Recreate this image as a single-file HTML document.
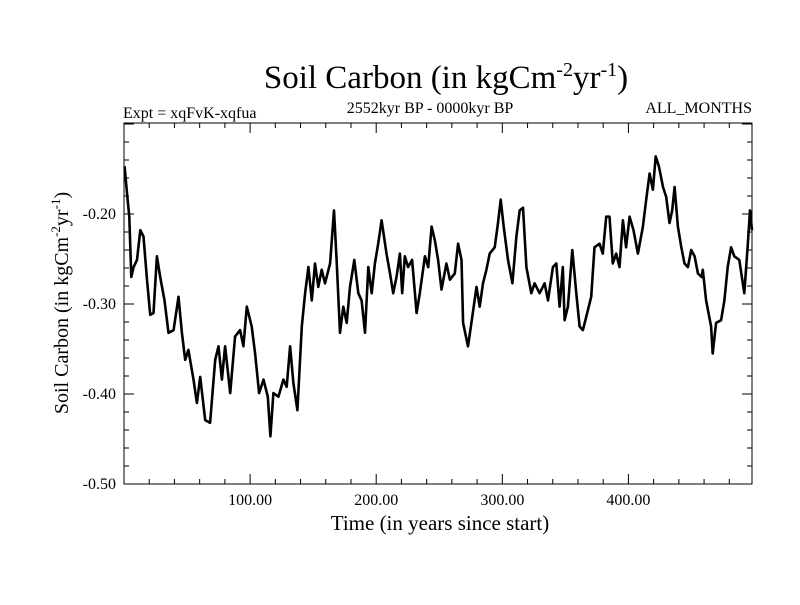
<!DOCTYPE html>
<html><head><meta charset="utf-8"><style>
body{margin:0;background:#fff}
svg text{font-family:"Liberation Serif",serif;fill:#000}
</style></head><body>
<svg id="chart" width="800" height="600" viewBox="0 0 800 600">
<text x="446" y="88" font-size="33" text-anchor="middle">Soil Carbon (in kgCm<tspan dy="-12" font-size="20">-2</tspan><tspan dy="12">yr</tspan><tspan dy="-12" font-size="20">-1</tspan><tspan dy="12">)</tspan></text>
<text x="123" y="118" font-size="16">Expt = xqFvK-xqfua</text>
<text x="430" y="113" font-size="16" text-anchor="middle">2552kyr BP - 0000kyr BP</text>
<text x="752" y="113" font-size="16" text-anchor="end">ALL_MONTHS</text>
<rect x="124" y="123" width="628" height="361" fill="none" stroke="#000" stroke-width="1"/>
<g id="ticks"></g>
<g id="series"></g>
<text x="440" y="530" font-size="21" text-anchor="middle">Time (in years since start)</text>
<text transform="translate(68,303) rotate(-90)" font-size="20" text-anchor="middle">Soil Carbon (in kgCm<tspan dy="-8" font-size="13">-2</tspan><tspan dy="8">yr</tspan><tspan dy="-8" font-size="13">-1</tspan><tspan dy="8">)</tspan></text>
</svg>
<script>
const years=[0.5,2.4,4.2,5.8,7.6,10.3,12.9,15.5,18.2,20.8,23.4,26.1,28.7,32.1,35.3,39.3,43.2,45.9,48.5,51.1,55.1,57.8,60.4,64.4,68.3,72.3,74.9,77.6,80.2,84.2,88.1,92.1,94.7,97.4,101.3,104,107.1,110.6,114,116.1,118.5,122.4,126.4,129,131.7,134.3,137.5,141,143.6,146.2,148.9,151.5,154.1,156.8,159.4,163.4,166.5,168.6,171.3,173.9,176.6,179.2,182.6,185.8,188.4,191.1,193.7,196.4,199,201.6,204.3,208.2,210.9,213.5,216.1,218.8,220.6,222.7,225.3,228.5,232,234.6,238.6,241.2,243.9,246.5,249.1,251.8,255.7,258.4,262.3,264.9,267.6,268.9,272.8,275.5,279.5,282.1,284.7,287.4,290,294,296.6,298.7,301.1,304.5,308,311.2,313.8,316.4,319.1,323,325.6,329.6,333.5,336.2,340.1,342.8,345.4,348,349.4,352,355.5,358.7,361.3,363.9,366.6,370.5,373.1,377.1,379.7,382.4,385,387.6,390.3,392.9,395.6,398.2,400.9,404,407.5,411.5,414.1,416.8,419.4,421.6,424.2,427.4,430,432.6,434.7,436.6,439.2,441.9,444.5,447.2,449.8,452.5,455.1,458,459,461.6,465.6,466.8,469.5,473.5,476.1,478.7,481.4,484,487.9,491.9,494.5,496.4,498];
const values=[-0.147,-0.177,-0.203,-0.27,-0.259,-0.251,-0.218,-0.225,-0.273,-0.312,-0.31,-0.247,-0.27,-0.296,-0.332,-0.329,-0.292,-0.332,-0.362,-0.351,-0.384,-0.41,-0.381,-0.429,-0.432,-0.362,-0.347,-0.384,-0.347,-0.399,-0.336,-0.329,-0.347,-0.303,-0.325,-0.355,-0.399,-0.384,-0.403,-0.447,-0.399,-0.403,-0.384,-0.392,-0.347,-0.388,-0.418,-0.325,-0.288,-0.259,-0.296,-0.255,-0.281,-0.262,-0.277,-0.255,-0.196,-0.251,-0.332,-0.303,-0.321,-0.281,-0.251,-0.288,-0.296,-0.332,-0.259,-0.288,-0.255,-0.233,-0.207,-0.244,-0.266,-0.288,-0.27,-0.244,-0.288,-0.247,-0.259,-0.251,-0.31,-0.288,-0.247,-0.259,-0.214,-0.229,-0.251,-0.284,-0.255,-0.273,-0.266,-0.233,-0.251,-0.321,-0.347,-0.321,-0.281,-0.303,-0.277,-0.262,-0.244,-0.237,-0.21,-0.184,-0.214,-0.251,-0.277,-0.225,-0.196,-0.193,-0.259,-0.288,-0.277,-0.288,-0.277,-0.296,-0.259,-0.255,-0.303,-0.259,-0.318,-0.303,-0.24,-0.288,-0.325,-0.329,-0.314,-0.292,-0.237,-0.233,-0.244,-0.203,-0.203,-0.255,-0.244,-0.259,-0.207,-0.237,-0.203,-0.218,-0.244,-0.214,-0.184,-0.155,-0.173,-0.136,-0.147,-0.17,-0.181,-0.21,-0.196,-0.17,-0.214,-0.237,-0.255,-0.259,-0.24,-0.247,-0.266,-0.27,-0.262,-0.296,-0.325,-0.355,-0.321,-0.318,-0.296,-0.259,-0.237,-0.247,-0.251,-0.288,-0.237,-0.196,-0.218];
const xTickValues=[100,200,300,400];
const xTickLabels=["100.00","200.00","300.00","400.00"];
const yTickValues=[-0.2,-0.3,-0.4,-0.5];
const yTickLabels=["-0.20","-0.30","-0.40","-0.50"];
const X0=124,X1=752,Y0=123,Y1=484,XMIN=0,XMAX=498,YMIN=-0.5,YMAX=-0.0989;
const sx=v=>X0+(v-XMIN)/(XMAX-XMIN)*(X1-X0);
const sy=v=>Y1-(v-YMIN)/(YMAX-YMIN)*(Y1-Y0);
const NS='http://www.w3.org/2000/svg';
const tg=document.getElementById('ticks');
function line(x1,y1,x2,y2,name){const l=document.createElementNS(NS,'line');l.setAttribute('x1',x1);l.setAttribute('y1',y1);l.setAttribute('x2',x2);l.setAttribute('y2',y2);l.setAttribute('stroke','#000');l.setAttribute('stroke-width','1');


tg.appendChild(l);}
for(let v=20;v<XMAX;v+=20){const x=sx(v);const major=v%100===0;const L=major?10:5;line(x,Y1,x,Y1-L,'x-tick');line(x,Y0,x,Y0+L,'x-tick-top');}
for(let k=0;k<=20;k++){const v=-0.5+k*0.02;if(v>YMAX)break;const y=sy(v);const major=k%5===0;const L=major?10:5;line(X0,y,X0+L,y,'y-tick');line(X1,y,X1-L,y,'y-tick-right');}
xTickValues.forEach((v,i)=>{const t=document.createElementNS(NS,'text');t.setAttribute('x',sx(v));t.setAttribute('y',505);t.setAttribute('font-size','16');t.setAttribute('text-anchor','middle');t.textContent=xTickLabels[i];


tg.appendChild(t);});
yTickValues.forEach((v,i)=>{const t=document.createElementNS(NS,'text');t.setAttribute('x',116);t.setAttribute('y',sy(v)+5);t.setAttribute('font-size','16');t.setAttribute('text-anchor','end');t.textContent=yTickLabels[i];


tg.appendChild(t);});
const p=document.createElementNS(NS,'polyline');
p.setAttribute('points',years.map((x,i)=>sx(x).toFixed(1)+','+sy(values[i]).toFixed(1)).join(' '));
p.setAttribute('fill','none');p.setAttribute('stroke','#000');p.setAttribute('stroke-width','2.6');p.setAttribute('stroke-linejoin','round');


document.getElementById('series').appendChild(p);
</script>
</body></html>
